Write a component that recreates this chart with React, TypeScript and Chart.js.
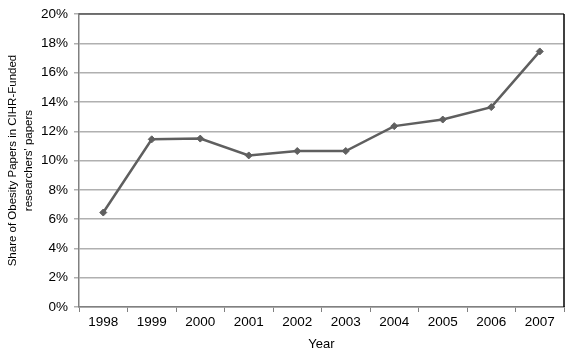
import React, { useEffect, useRef } from "react";
import { Chart, registerables } from "chart.js";

Chart.register(...registerables);

const years = ["1998", "1999", "2000", "2001", "2002", "2003", "2004", "2005", "2006", "2007"];
const shares = [6.45, 11.45, 11.5, 10.35, 10.65, 10.65, 12.35, 12.8, 13.65, 17.45];
const yTitle = ["Share of Obesity Papers in CIHR-Funded", "researchers' papers"];
const xTitle = "Year";

const frame = {
  id: "frame",
  afterDraw(chart: any) {
    const { ctx, chartArea: a } = chart;
    ctx.save();
    ctx.lineWidth = 1.5;
    ctx.strokeStyle = "#555555";
    ctx.beginPath();
    ctx.moveTo(a.left, a.top);
    ctx.lineTo(a.right, a.top);
    ctx.stroke();
    ctx.strokeStyle = "#000000";
    ctx.beginPath();
    ctx.moveTo(a.right, a.top);
    ctx.lineTo(a.right, a.bottom);
    ctx.stroke();
    ctx.restore();
  },
};

export default function App() {
  const ref = useRef<HTMLCanvasElement>(null);
  useEffect(() => {
    document.body.style.margin = "0";
    const font = { family: "'Liberation Sans', Arial, sans-serif", size: 13.5 };
    const tfont = { family: "'Liberation Sans', Arial, sans-serif", size: 11.5, lineHeight: 1.45 };
    const chart = new Chart(ref.current!, {
      type: "line",
      data: {
        labels: years,
        datasets: [
          {
            data: shares,
            borderColor: "#5f5f5f",
            backgroundColor: "#5f5f5f",
            borderWidth: 2.5,
            pointStyle: "rectRot",
            pointRadius: 3.5,
            pointBorderWidth: 1,
            tension: 0,
          },
        ],
      },
      options: {
        animation: false,
        responsive: false,
        layout: { padding: { left: 0, right: 6, top: 14, bottom: 0 } },
        plugins: { legend: { display: false }, tooltip: { enabled: false } },
        scales: {
          x: {
            offset: true,
            afterFit: (s: any) => { s.height = 48; },
            grid: { offset: true, drawOnChartArea: false, drawTicks: true, tickLength: 5, color: "#808080" },
            border: { color: "#808080", width: 1.5 },
            ticks: { color: "#000", font, padding: 2, maxRotation: 0 },
            title: { display: true, text: xTitle, color: "#000", font: { ...font, size: 13 }, padding: { top: 0, bottom: 3 } },
          },
          y: {
            min: 0,
            max: 20,
            afterFit: (s: any) => { s.width = 79; },
            ticks: { stepSize: 2, color: "#000", font, padding: 6, callback: (v: any) => v + "%" },
            grid: { color: "#b0b0b0", lineWidth: 1.5, tickLength: 5 },
            border: { color: "#808080", width: 1.5 },
            title: { display: true, text: yTitle, color: "#000", font: tfont, padding: { top: 4, bottom: 2 } },
          },
        },
      },
      plugins: [frame],
    });
    return () => chart.destroy();
  }, []);
  return <canvas ref={ref} width={570} height={355} style={{ display: "block" }} />;
}
